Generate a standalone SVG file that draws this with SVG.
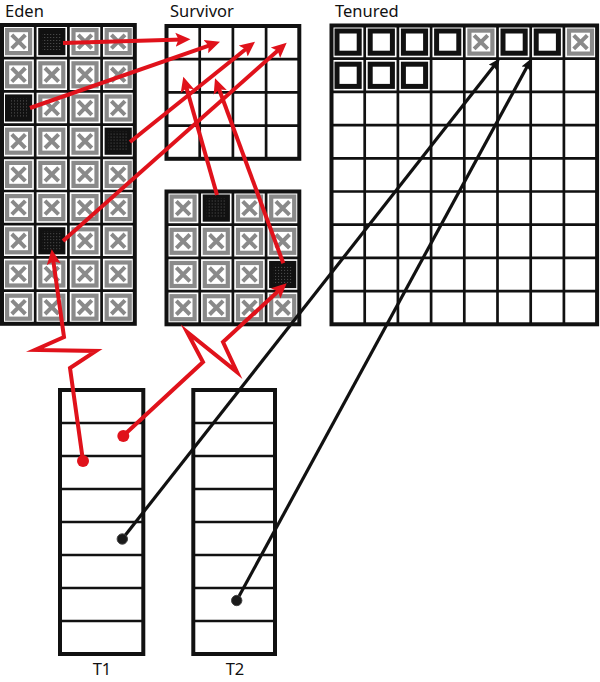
<svg xmlns="http://www.w3.org/2000/svg" xmlns:xlink="http://www.w3.org/1999/xlink" width="600" height="682" viewBox="0 0 600 682">
<style>
.grid{fill:none;stroke:#111;stroke-width:2.7}
.frame{fill:none;stroke:#111;stroke-width:4}
.bg{fill:#fff}
.red{fill:none;stroke:#e0121b;stroke-width:4;stroke-linejoin:miter;stroke-miterlimit:10}
.blk{fill:none;stroke:#111;stroke-width:3.2}
.rdot{fill:#e0121b}
.bdot{fill:#1a1a1a;stroke:#444;stroke-width:1}
.lbl{font-family:"Noto Sans",sans-serif;font-size:16.5px;fill:#111}
</style>
<defs>
<pattern id="dots" width="3" height="3" patternUnits="userSpaceOnUse"><rect width="3" height="3" fill="#111"/><rect width="1" height="1" fill="#555"/></pattern>
<g id="xc"><rect x="3" y="3" width="27.2" height="27.2" fill="#8a8a8a"/><rect x="7.2" y="7.2" width="18.8" height="18.8" fill="#fff"/><path d="M9.8,9.8L23.4,23.4M23.4,9.8L9.8,23.4" stroke="#8a8a8a" stroke-width="4"/></g>
<g id="dc"><rect x="3" y="3" width="27.2" height="27.2" fill="#111"/><rect x="7" y="7" width="19.2" height="19.2" fill="url(#dots)"/></g>
<g id="bc"><rect x="5.5" y="5.5" width="22.2" height="22.2" fill="#fff" stroke="#111" stroke-width="5"/></g>
<marker id="ah" markerUnits="userSpaceOnUse" markerWidth="16" markerHeight="16" viewBox="0 -8 16 16" refX="7" refY="0" orient="auto"><path d="M0,-7L15,0L0,7L3,0z" fill="#e0121b"/></marker>
<marker id="bh" markerUnits="userSpaceOnUse" markerWidth="13" markerHeight="12" viewBox="0 -6 13 12" refX="6" refY="0" orient="auto"><path d="M0,-5L12,0L0,5L2,0z" fill="#111"/></marker>
</defs>
<rect width="600" height="682" fill="#fff"/>

<g id="eden">
<text class="lbl" x="5" y="17">Eden</text>
<rect class="bg" x="2" y="25" width="132.8" height="298.8"/>
<use href="#xc" x="2" y="25"/><use href="#dc" x="35.2" y="25"/><use href="#xc" x="68.4" y="25"/><use href="#xc" x="101.6" y="25"/>
<use href="#xc" x="2" y="58.2"/><use href="#xc" x="35.2" y="58.2"/><use href="#xc" x="68.4" y="58.2"/><use href="#xc" x="101.6" y="58.2"/>
<use href="#dc" x="2" y="91.4"/><use href="#xc" x="35.2" y="91.4"/><use href="#xc" x="68.4" y="91.4"/><use href="#xc" x="101.6" y="91.4"/>
<use href="#xc" x="2" y="124.6"/><use href="#xc" x="35.2" y="124.6"/><use href="#xc" x="68.4" y="124.6"/><use href="#dc" x="101.6" y="124.6"/>
<use href="#xc" x="2" y="157.8"/><use href="#xc" x="35.2" y="157.8"/><use href="#xc" x="68.4" y="157.8"/><use href="#xc" x="101.6" y="157.8"/>
<use href="#xc" x="2" y="191"/><use href="#xc" x="35.2" y="191"/><use href="#xc" x="68.4" y="191"/><use href="#xc" x="101.6" y="191"/>
<use href="#xc" x="2" y="224.2"/><use href="#dc" x="35.2" y="224.2"/><use href="#xc" x="68.4" y="224.2"/><use href="#xc" x="101.6" y="224.2"/>
<use href="#xc" x="2" y="257.4"/><use href="#xc" x="35.2" y="257.4"/><use href="#xc" x="68.4" y="257.4"/><use href="#xc" x="101.6" y="257.4"/>
<use href="#xc" x="2" y="290.6"/><use href="#xc" x="35.2" y="290.6"/><use href="#xc" x="68.4" y="290.6"/><use href="#xc" x="101.6" y="290.6"/>
<path class="grid" d="M35.2 25V323.8M68.4 25V323.8M101.6 25V323.8M2 58.2H134.8M2 91.4H134.8M2 124.6H134.8M2 157.8H134.8M2 191H134.8M2 224.2H134.8M2 257.4H134.8M2 290.6H134.8"/>
<rect class="frame" x="2" y="25" width="132.8" height="298.8"/>
</g>

<g id="survivor-top">
<text class="lbl" x="170" y="17">Survivor</text>
<rect class="bg" x="166.5" y="26" width="132.8" height="132.8"/>
<path class="grid" d="M199.7 26V158.8M232.9 26V158.8M266.1 26V158.8M166.5 59.2H299.3M166.5 92.4H299.3M166.5 125.6H299.3"/>
<rect class="frame" x="166.5" y="26" width="132.8" height="132.8"/>
</g>

<g id="survivor-bottom">
<rect class="bg" x="166.5" y="191.5" width="132.8" height="132.8"/>
<use href="#xc" x="166.5" y="191.5"/><use href="#dc" x="199.7" y="191.5"/><use href="#xc" x="232.9" y="191.5"/><use href="#xc" x="266.1" y="191.5"/>
<use href="#xc" x="166.5" y="224.7"/><use href="#xc" x="199.7" y="224.7"/><use href="#xc" x="232.9" y="224.7"/><use href="#xc" x="266.1" y="224.7"/>
<use href="#xc" x="166.5" y="257.9"/><use href="#xc" x="199.7" y="257.9"/><use href="#xc" x="232.9" y="257.9"/><use href="#dc" x="266.1" y="257.9"/>
<use href="#xc" x="166.5" y="291.1"/><use href="#xc" x="199.7" y="291.1"/><use href="#xc" x="232.9" y="291.1"/><use href="#xc" x="266.1" y="291.1"/>
<path class="grid" d="M199.7 191.5V324.3M232.9 191.5V324.3M266.1 191.5V324.3M166.5 224.7H299.3M166.5 257.9H299.3M166.5 291.1H299.3"/>
<rect class="frame" x="166.5" y="191.5" width="132.8" height="132.8"/>
</g>

<g id="tenured">
<text class="lbl" x="335" y="17">Tenured</text>
<rect class="bg" x="331.5" y="25.5" width="265.6" height="298.8"/>
<use href="#bc" x="331.5" y="25.5"/><use href="#bc" x="364.7" y="25.5"/><use href="#bc" x="397.9" y="25.5"/><use href="#bc" x="431.1" y="25.5"/><use href="#xc" x="464.3" y="25.5"/><use href="#bc" x="497.5" y="25.5"/><use href="#bc" x="530.7" y="25.5"/><use href="#xc" x="563.9" y="25.5"/>
<use href="#bc" x="331.5" y="58.7"/><use href="#bc" x="364.7" y="58.7"/><use href="#bc" x="397.9" y="58.7"/>
<path class="grid" d="M364.7 25.5V324.3M397.9 25.5V324.3M431.1 25.5V324.3M464.3 25.5V324.3M497.5 25.5V324.3M530.7 25.5V324.3M563.9 25.5V324.3M331.5 58.7H597.1M331.5 91.9H597.1M331.5 125.1H597.1M331.5 158.3H597.1M331.5 191.5H597.1M331.5 224.7H597.1M331.5 257.9H597.1M331.5 291.1H597.1"/>
<rect class="frame" x="331.5" y="25.5" width="265.6" height="298.8"/>
</g>

<g id="t1">
<rect class="bg" x="60" y="390" width="83.3" height="264"/>
<path class="grid" d="M60 423H143.3M60 456H143.3M60 489H143.3M60 522H143.3M60 555H143.3M60 588H143.3M60 621H143.3"/>
<rect class="frame" x="60" y="390" width="83.3" height="264"/>
<text class="lbl" x="102" y="675" text-anchor="middle">T1</text>
</g>

<g id="t2">
<rect class="bg" x="193.3" y="390" width="81.7" height="264"/>
<path class="grid" d="M193.3 423H275M193.3 456H275M193.3 489H275M193.3 522H275M193.3 555H275M193.3 588H275M193.3 621H275"/>
<rect class="frame" x="193.3" y="390" width="81.7" height="264"/>
<text class="lbl" x="235" y="675" text-anchor="middle">T2</text>
</g>

<g id="connectors">
<path class="red" d="M63,43L182.5,39.5" marker-end="url(#ah)"/>
<path class="red" d="M30,108L212.45,44.34" marker-end="url(#ah)"/>
<path class="red" d="M130,142L248.76,46.7" marker-end="url(#ah)"/>
<path class="red" d="M63,241L280.7,48" marker-end="url(#ah)"/>
<path class="red" d="M217,195L185.5,84.4" marker-end="url(#ah)"/>
<path class="red" d="M283.3,263.3L217.8,85.8" marker-end="url(#ah)"/>
<path class="red" d="M83,461L70,368L96,351L35,350L64,337L52.8,257.2" marker-end="url(#ah)"/>
<path class="red" d="M123,436L203,362L187,332L237,372L223,342L280.8,288.7" marker-end="url(#ah)"/>
<circle class="rdot" cx="83" cy="461" r="6"/>
<circle class="rdot" cx="123.3" cy="436" r="6"/>
<path class="blk" d="M122.3,539L496.3,63" marker-end="url(#bh)"/>
<path class="blk" d="M236.7,600.5L528.8,63.6" marker-end="url(#bh)"/>
<circle class="bdot" cx="122.3" cy="539" r="5.2"/>
<circle class="bdot" cx="236.7" cy="600.5" r="5.2"/>
</g>
</svg>
